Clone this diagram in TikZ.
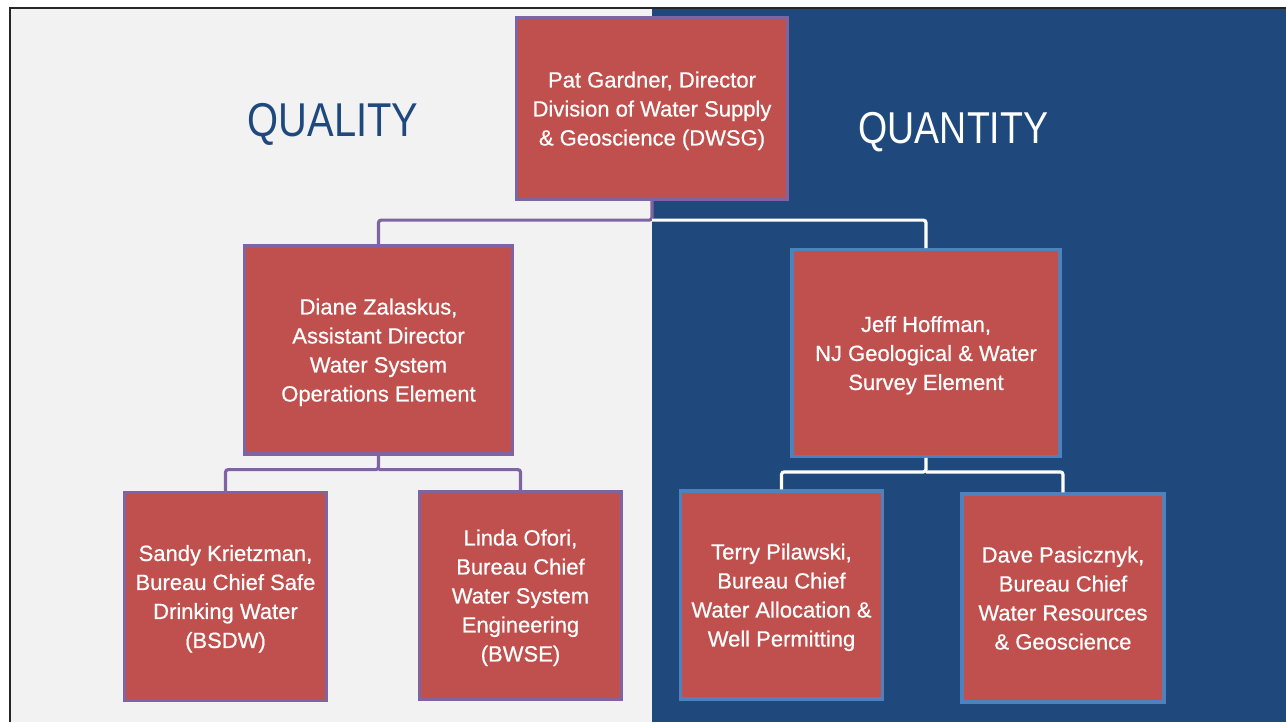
\documentclass[tikz,border=0pt]{standalone}
\usepackage{fontspec}
\setmainfont{Liberation Sans}
\newfontfamily\unitfont[FakeBold=0.6]{Liberation Sans}
\newfontfamily\headfont[FakeStretch=0.84]{Liberation Sans}
\usetikzlibrary{positioning}

\definecolor{panelgrey}{HTML}{F2F2F2}
\definecolor{panelblue}{HTML}{1F497D}
\definecolor{boxred}{HTML}{C0504D}
\definecolor{qualpurple}{HTML}{8064A2}
\definecolor{quantblue}{HTML}{4F81BD}

\tikzset{
  unit/.style={draw, line width=2.4pt, fill=boxred, text=white, align=center,
               inner sep=0pt, text depth=0pt, font=\unitfont\fontsize{16.5}{21.75}\selectfont},
  qualunit/.style={unit, draw=qualpurple},
  quantunit/.style={unit, draw=quantblue},
  bigbox/.style={minimum width=201pt, minimum height=156pt},
  smallbox/.style={minimum width=151.5pt, minimum height=156pt},
  qualline/.style={draw=qualpurple, line width=2.4pt, rounded corners=2pt},
  quantline/.style={draw=white, line width=2.4pt, rounded corners=2pt},
  heading/.style={inner sep=0pt, text depth=0pt}
}

\begin{document}
\begin{tikzpicture}[x=0.75pt, y=-0.75pt]
  \useasboundingbox (0,0) rectangle (1286,722);
  % two halves of the slide
  \fill[panelgrey] (10,8) rectangle (652,722);
  \fill[panelblue] (652,8) rectangle (1286,722);
  \draw[line width=1.6pt, black!85] (10,722) -- (10,8) -- (1286,8);

  \node[heading, text=panelblue, font=\headfont\fontsize{35.6}{40}\selectfont]
       (quality) at (333,120) {QUALITY};
  \node[heading, text=white, font=\headfont\fontsize{33.5}{38}\selectfont]
       (quantity) at (953.5,127.5) {QUANTITY};

  % director
  \node[qualunit, minimum width=203pt, minimum height=136.5pt] (director) at (652,108.5)
       {Pat Gardner, Director\\Division of Water Supply\\\& Geoscience (DWSG)};

  % assistant directors
  \node[qualunit, bigbox] (diane) at (378.5,350)
       {Diane Zalaskus,\\Assistant Director\\Water System\\Operations Element};
  \node[quantunit, bigbox, minimum height=155pt] (jeff) at (926,353)
       {Jeff Hoffman,\\NJ Geological \& Water\\Survey Element};

  % bureau chiefs
  \node[qualunit, smallbox] (sandy) at (225.5,596.5)
       {Sandy Krietzman,\\Bureau Chief Safe\\Drinking Water\\(BSDW)};
  \node[qualunit, smallbox] (linda) at (520.5,595.5)
       {Linda Ofori,\\Bureau Chief\\Water System\\Engineering\\(BWSE)};
  \node[quantunit, smallbox] (terry) at (781.5,595)
       {Terry Pilawski,\\Bureau Chief\\Water Allocation \&\\Well Permitting};
  \node[quantunit, smallbox] (dave) at (1063,598)
       {Dave Pasicznyk,\\Bureau Chief\\Water Resources\\\& Geoscience};

  % connectors
  \draw[qualline] (director.south) -- ++(0,19) coordinate (split) -| (diane.north);
  \draw[quantline] (split) -| (jeff.north);
  \draw[qualline] (diane.south) -- ++(0,14) coordinate (qsplit) -| (sandy.north);
  \draw[qualline] (qsplit) -| (linda.north);
  \draw[quantline] (jeff.south) -- ++(0,14) coordinate (wsplit) -| (terry.north);
  \draw[quantline] (wsplit) -| (dave.north);
\end{tikzpicture}
\end{document}
